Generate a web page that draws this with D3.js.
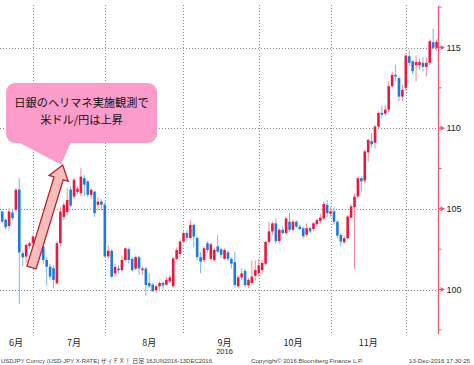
<!DOCTYPE html>
<html>
<head>
<meta charset="utf-8">
<script src="https://cdn.jsdelivr.net/npm/d3@7"></script>
<style>
  body { margin: 0; background: #fff; }
  svg { display: block; }
</style>
</head>
<body>
<div id="chart"></div>
<script>
// USD/JPY daily candles, 16 Jun 2016 - 13 Dec 2016
const opens = [
  105.6, 104.83, 104.32, 103.94, 104.77, 104.94, 106.2, 102.25, 102.04, 102.7,
  102.87, 103.18, 102.56, 102.66, 101.83, 101.42, 101.32, 100.39, 102.87, 104.5,
  104.8, 106.2, 105.76, 106.05, 105.97, 106.9, 106.7, 105.87, 106.07, 105.25,
  105.45, 105.25, 102.05, 102.4, 101.0, 101.3, 101.2, 101.83, 102.5, 101.9,
  101.3, 102.0, 101.2, 101.3, 100.4, 100.3, 99.95, 100.2, 100.4, 100.3,
  100.5, 100.2, 101.9, 102.2, 102.97, 103.5, 103.2, 104.0, 103.2, 102.0,
  101.83, 102.87, 101.9, 101.83, 102.67, 102.5, 101.9, 102.3, 101.9, 101.7,
  100.2, 100.75, 101.15, 100.25, 100.4, 100.85, 101.0, 101.2, 101.6, 102.95,
  103.6, 104.1, 103.0, 103.7, 103.5, 104.2, 103.7, 104.2, 103.9, 103.8,
  103.4, 103.8, 103.75, 104.05, 104.25, 104.4, 105.25, 104.7, 104.85, 104.2,
  103.38, 102.93, 103.18, 104.45, 105.1, 105.76, 106.9, 106.75, 108.5, 109.2,
  109.1, 110.1, 110.95, 110.9, 111.15, 112.6, 113.3, 113.1, 111.96, 112.5,
  114.46, 114.15, 113.9, 113.9, 114.05, 113.8, 114.05, 115.33, 114.98
];
const highs = [
  105.8, 104.9, 104.4, 105.06, 104.95, 106.29, 106.9, 102.4, 102.83, 103.0,
  103.39, 103.3, 102.9, 102.8, 102.0, 101.6, 101.5, 103.0, 105.1, 105.4,
  106.3, 106.4, 106.9, 106.4, 107.53, 107.1, 106.8, 106.3, 106.1, 105.7,
  105.6, 105.45, 102.75, 102.5, 101.6, 101.5, 102.1, 102.6, 102.6, 102.0,
  102.1, 102.1, 101.4, 101.4, 101.0, 100.4, 100.3, 100.5, 100.5, 100.8,
  100.9, 102.0, 102.6, 103.1, 103.6, 103.7, 104.3, 104.1, 103.3, 102.3,
  102.7, 103.0, 102.9, 102.6, 103.4, 102.6, 102.55, 102.4, 102.0, 102.35,
  100.9, 101.3, 101.3, 100.7, 101.8, 101.8, 101.9, 101.8, 103.0, 104.2,
  104.2, 104.4, 103.8, 103.9, 104.5, 104.75, 104.3, 104.3, 104.0, 103.9,
  104.1, 103.9, 104.2, 104.4, 104.7, 105.45, 105.55, 105.1, 105.1, 104.3,
  103.5, 103.3, 104.6, 105.3, 105.95, 107.0, 107.0, 108.65, 109.3, 109.7,
  110.2, 111.04, 111.4, 111.4, 112.9, 113.5, 113.93, 113.2, 112.7, 114.6,
  114.8, 114.2, 114.5, 114.3, 114.4, 114.4, 115.5, 116.16, 115.5
];
const lows = [
  104.2, 104.1, 103.7, 103.65, 104.3, 104.8, 99.1, 101.46, 101.65, 102.5,
  102.7, 102.4, 102.4, 101.6, 100.24, 100.6, 100.08, 100.3, 102.7, 104.3,
  104.6, 105.1, 105.6, 105.9, 105.8, 105.8, 105.7, 105.6, 104.5, 104.9,
  104.9, 102.0, 101.9, 100.7, 100.8, 101.0, 101.1, 101.7, 101.6, 101.1,
  101.2, 100.9, 100.9, 99.6, 100.1, 99.85, 99.8, 100.0, 100.0, 100.2,
  100.4, 100.1, 101.8, 102.0, 102.9, 103.0, 103.1, 102.6, 101.8, 101.0,
  101.7, 102.3, 101.8, 101.7, 102.25, 101.95, 101.85, 101.75, 101.3, 100.15,
  100.1, 100.6, 100.15, 100.1, 100.3, 100.6, 100.8, 101.0, 101.5, 102.8,
  103.4, 102.85, 102.85, 103.4, 103.4, 103.6, 103.6, 103.8, 103.65, 103.15,
  103.3, 103.5, 103.6, 103.9, 104.1, 104.3, 104.5, 104.5, 104.0, 103.2,
  102.66, 102.85, 103.1, 104.4, 101.26, 105.65, 106.08, 106.6, 107.9, 108.8,
  108.75, 110.0, 110.6, 110.75, 111.0, 112.5, 112.9, 111.65, 111.7, 112.3,
  113.85, 113.37, 112.9, 113.6, 113.5, 113.2, 113.9, 114.9, 114.8
];
const closes = [
  104.5, 104.21, 103.86, 104.83, 104.42, 106.18, 102.3, 102.0, 102.76, 102.87,
  103.28, 102.56, 102.76, 101.83, 101.42, 100.8, 100.59, 102.87, 104.83, 105.25,
  105.55, 105.2, 106.8, 106.25, 107.0, 106.5, 105.87, 106.18, 104.73, 105.45,
  105.25, 102.05, 102.4, 100.8, 101.4, 101.2, 101.83, 102.55, 101.83, 101.2,
  102.0, 101.3, 101.3, 100.28, 100.2, 99.9, 100.2, 100.4, 100.25, 100.6,
  100.75, 101.93, 102.45, 102.97, 103.5, 103.2, 104.0, 103.28, 102.0, 101.73,
  102.56, 102.45, 102.8, 102.45, 102.35, 102.15, 102.45, 101.9, 101.6, 100.28,
  100.75, 101.0, 100.28, 100.6, 100.8, 101.2, 101.5, 101.65, 102.95, 103.6,
  104.1, 103.0, 103.7, 103.5, 104.4, 103.7, 104.2, 103.9, 103.75, 103.3,
  103.8, 103.6, 104.1, 104.3, 104.45, 105.3, 104.73, 104.85, 104.2, 103.34,
  102.97, 103.18, 104.52, 105.15, 105.75, 106.9, 106.7, 108.56, 109.28, 109.0,
  110.1, 110.94, 110.83, 111.15, 112.6, 113.3, 113.2, 111.96, 112.38, 114.5,
  114.05, 113.53, 114.1, 114.1, 113.8, 114.05, 115.39, 114.98, 115.35
];

// Trading days (weekdays) covered by the chart
const fmt = d3.timeFormat("%Y-%m-%d");
const days = d3.timeDay.range(new Date(2016, 5, 16), new Date(2016, 11, 14))
    .filter(d => d.getDay() !== 0 && d.getDay() !== 6)
    .map(fmt);

// Axis ticks and labels
const yTicks = [100, 105, 110, 115];
const yMinorTicks = [97.5, 102.5, 107.5, 112.5, 117.5];
const monthLabels = ["6月", "7月", "8月", "9月", "10月", "11月"];
const monthLabelDays = ["2016-06-23", "2016-07-18", "2016-08-17", "2016-09-16", "2016-10-14", "2016-11-15"];
const monthEndDays = ["2016-06-30", "2016-07-29", "2016-08-31", "2016-09-30", "2016-10-31", "2016-11-30"];
const yearLabel = "2016";
const yearLabelDay = "2016-09-16";

// Callout text
const calloutLines = ["日銀のヘリマネ実施観測で", "米ドル/円は上昇"];

// Footer texts
const footerLeft = "USDJPY Curncy (USD-JPY X-RATE) ザイＦＸ！  日足 16JUN2016-13DEC2016";
const footerMid = "Copyright© 2016 Bloomberg Finance L.P.";
const footerRight = "13-Dec-2016 17:30:25";

/* Layout */
let width = 474;
let height = 365;
let axisX = 438.5;
let plotTop = 6;
let plotBottom = 334;

let upColor = "#e8193c";
let upWickColor = "#f08a9e";
let downColor = "#1f7ae0";
let downWickColor = "#7fb3ee";
let axisColor = "#ee5577";
let gridColor = "#8a8a8a";

const svg = d3.select("#chart")
    .append("svg")
    .attr("width", width)
    .attr("height", height)
    .style("background-color", "#fff");

// Scales
const x = d3.scalePoint()
    .domain(days)
    .range([-1.2, 436.6]);

const y = d3.scaleLinear()
    .domain([100, 115])
    .range([289.5, 47.5]);

// Grid lines, dotted
svg.append("g")
    .selectAll("line")
    .data(yTicks)
    .join("line")
    .attr("x1", 0)
    .attr("x2", axisX)
    .attr("y1", d => Math.round(y(d)) + 0.5)
    .attr("y2", d => Math.round(y(d)) + 0.5)
    .attr("stroke", gridColor)
    .attr("stroke-width", 1)
    .attr("stroke-dasharray", "1,2");

svg.append("g")
    .selectAll("line")
    .data(monthEndDays)
    .join("line")
    .attr("x1", d => Math.round(x(d)) + 0.5)
    .attr("x2", d => Math.round(x(d)) + 0.5)
    .attr("y1", plotTop - 1)
    .attr("y2", plotBottom)
    .attr("stroke", gridColor)
    .attr("stroke-width", 1)
    .attr("stroke-dasharray", "1,2");

// Candles
const candles = days.map((d, i) => ({
    day: d, o: opens[i], h: highs[i], l: lows[i], c: closes[i]
}));

const candleGroup = svg.append("g");

candleGroup.selectAll("line")
    .data(candles)
    .join("line")
    .attr("x1", d => x(d.day))
    .attr("x2", d => x(d.day))
    .attr("y1", d => y(d.h))
    .attr("y2", d => y(d.l))
    .attr("stroke", d => d.c >= d.o ? upWickColor : downWickColor)
    .attr("stroke-width", 1);

candleGroup.selectAll("rect")
    .data(candles)
    .join("rect")
    .attr("x", d => x(d.day) - 1.3)
    .attr("width", 2.6)
    .attr("y", d => y(Math.max(d.o, d.c)))
    .attr("height", d => Math.max(Math.abs(y(d.o) - y(d.c)), 1.2))
    .attr("fill", d => d.c >= d.o ? upColor : downColor);

// Right axis
const axisGroup = svg.append("g");

axisGroup.append("line")
    .attr("x1", axisX)
    .attr("x2", axisX)
    .attr("y1", plotTop)
    .attr("y2", plotBottom)
    .attr("stroke", axisColor)
    .attr("stroke-width", 1.3);

axisGroup.selectAll(".minor")
    .data(yMinorTicks)
    .join("line")
    .attr("class", "minor")
    .attr("x1", axisX)
    .attr("x2", axisX + 3)
    .attr("y1", d => y(d))
    .attr("y2", d => y(d))
    .attr("stroke", axisColor)
    .attr("stroke-width", 1);

axisGroup.selectAll(".major")
    .data(yTicks)
    .join("path")
    .attr("class", "major")
    .attr("d", d => "M" + axisX + "," + (y(d) - 0.6) + "H" + (axisX + 2) + "V" + (y(d) - 2.6) +
        "L" + (axisX + 6.5) + "," + y(d) + "L" + (axisX + 2) + "," + (y(d) + 2.6) +
        "V" + (y(d) + 0.6) + "H" + axisX + "Z")
    .attr("fill", axisColor);

axisGroup.selectAll("text")
    .data(yTicks)
    .join("text")
    .attr("x", 446.5)
    .attr("y", d => y(d))
    .attr("dy", ".35em")
    .attr("font-family", "'Liberation Sans', Arial, sans-serif")
    .attr("font-size", "9px")
    .attr("fill", "#222")
    .text(d => d);

// Month labels
svg.append("g")
    .selectAll("text")
    .data(monthLabels)
    .join("text")
    .attr("x", (d, i) => x(monthLabelDays[i]))
    .attr("y", 342.5)
    .attr("dy", ".35em")
    .attr("text-anchor", "middle")
    .attr("font-family", "'Noto Sans CJK JP', sans-serif")
    .attr("font-size", "9px")
    .attr("fill", "#222")
    .text(d => d);

svg.append("text")
    .attr("x", x(yearLabelDay))
    .attr("y", 351.5)
    .attr("dy", ".35em")
    .attr("text-anchor", "middle")
    .attr("font-family", "'Liberation Sans', Arial, sans-serif")
    .attr("font-size", "7.5px")
    .attr("fill", "#222")
    .text(yearLabel);

// Footer
const footer = svg.append("g")
    .attr("font-family", "'Liberation Sans', 'Noto Sans CJK JP', sans-serif")
    .attr("font-size", "6.2px")
    .attr("fill", "#444");

footer.append("text")
    .attr("x", 1)
    .attr("y", 362.5)
    .attr("textLength", 211)
    .attr("lengthAdjust", "spacingAndGlyphs")
    .text(footerLeft);

footer.append("text")
    .attr("x", 251)
    .attr("y", 362.5)
    .attr("textLength", 112)
    .attr("lengthAdjust", "spacingAndGlyphs")
    .text(footerMid);

footer.append("text")
    .attr("x", 409)
    .attr("y", 362.5)
    .attr("textLength", 61)
    .attr("lengthAdjust", "spacingAndGlyphs")
    .text(footerRight);

/* Annotation */
// The arrow, drawn along the rally
let arrowTailX = 31.5;
let arrowTailY = 267.5;
let arrowTipX = 62.7;
let arrowTipY = 165;
let arrowLength = Math.hypot(arrowTipX - arrowTailX, arrowTipY - arrowTailY);
let arrowAngle = Math.atan2(arrowTipY - arrowTailY, arrowTipX - arrowTailX) * 180 / Math.PI;
let shaftHalf = 4.8;
let headHalf = 10;
let headLength = 14;

svg.append("path")
    .attr("transform", "translate(" + arrowTailX + "," + arrowTailY + ") rotate(" + arrowAngle + ")")
    .attr("d", "M0," + (-shaftHalf) +
        "L" + (arrowLength - headLength) + "," + (-shaftHalf) +
        "L" + (arrowLength - headLength) + "," + (-headHalf) +
        "L" + arrowLength + ",0" +
        "L" + (arrowLength - headLength) + "," + headHalf +
        "L" + (arrowLength - headLength) + "," + shaftHalf +
        "L0," + shaftHalf + "Z")
    .attr("fill", "#f7bcbc")
    .attr("stroke", "#b8232a")
    .attr("stroke-width", 1.3)
    .attr("stroke-linejoin", "miter");

// The callout box, a rounded rect with a pointer
let boxX = 6;
let boxY = 83;
let boxWidth = 151;
let boxHeight = 60;
let calloutColor = "#fc9ccb";

svg.append("polygon")
    .attr("points", "14,140 72,140 61,164.5")
    .attr("fill", calloutColor);

svg.append("rect")
    .attr("x", boxX)
    .attr("y", boxY)
    .attr("width", boxWidth)
    .attr("height", boxHeight)
    .attr("rx", 9)
    .attr("fill", calloutColor);

svg.append("g")
    .selectAll("text")
    .data(calloutLines)
    .join("text")
    .attr("x", boxX + boxWidth / 2)
    .attr("y", (d, i) => 103 + i * 17)
    .attr("dy", ".35em")
    .attr("text-anchor", "middle")
    .attr("font-family", "'Noto Sans CJK JP', sans-serif")
    .attr("font-size", "11.2px")
    .attr("fill", "#111")
    .text(d => d);
</script>
</body>
</html>
